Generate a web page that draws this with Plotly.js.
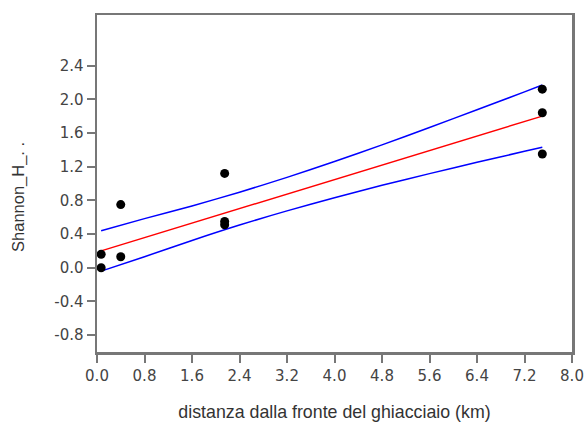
<!DOCTYPE html>
<html>
<head>
<meta charset="utf-8">
<script src="https://cdn.plot.ly/plotly-3.0.1.min.js"></script>
<style>html,body{margin:0;padding:0;background:#fff;}#chart{width:587px;height:423px;}</style>
</head>
<body>
<div id="chart"></div>
<script>
// Observed points
const distX = [0.07, 0.07, 0.4, 0.4, 2.15, 2.15, 2.15, 7.5, 7.5, 7.5];
const shannonY = [0.0, 0.16, 0.13, 0.75, 0.51, 0.55, 1.12, 1.35, 1.84, 2.12];

// Fitted line and confidence band
const fitX = [0.07, 0.8, 1.6, 2.4, 3.2, 4.0, 4.8, 5.6, 6.4, 7.2, 7.5];
const fitY = [0.20, 0.357, 0.529, 0.702, 0.874, 1.046, 1.218, 1.391, 1.563, 1.735, 1.80];
const upperY = [0.44, 0.583, 0.734, 0.897, 1.073, 1.261, 1.458, 1.665, 1.875, 2.088, 2.17];
const lowerY = [-0.04, 0.131, 0.324, 0.507, 0.675, 0.831, 0.978, 1.117, 1.251, 1.382, 1.43];

// Tick labels
const xTicks = [0.0, 0.8, 1.6, 2.4, 3.2, 4.0, 4.8, 5.6, 6.4, 7.2, 8.0];
const yTicks = [-0.8, -0.4, 0.0, 0.4, 0.8, 1.2, 1.6, 2.0, 2.4];

const traces = [
  {x: fitX, y: upperY, mode: 'lines', line: {color: '#0000ff', width: 1.5, shape: 'spline', smoothing: 0.8}, hoverinfo: 'skip'},
  {x: fitX, y: lowerY, mode: 'lines', line: {color: '#0000ff', width: 1.5, shape: 'spline', smoothing: 0.8}, hoverinfo: 'skip'},
  {x: fitX, y: fitY, mode: 'lines', line: {color: '#ff0000', width: 1.5}, hoverinfo: 'skip'},
  {x: distX, y: shannonY, mode: 'markers', marker: {color: '#000', size: 9}}
];

const tickFont = {family: 'DejaVu Sans', size: 15, color: '#444'};
const axisCommon = {
  showline: true, mirror: true, linecolor: '#777', linewidth: 2.5,
  ticks: 'outside', ticklen: 8, tickwidth: 2, tickcolor: '#777',
  showgrid: false, zeroline: false, tickfont: tickFont, fixedrange: true
};

const layout = {
  width: 587, height: 423,
  margin: {l: 97, r: 15, t: 15, b: 71},
  paper_bgcolor: '#fff', plot_bgcolor: '#fff',
  showlegend: false,
  xaxis: Object.assign({}, axisCommon, {
    range: [0, 8], tickmode: 'array', tickvals: xTicks,
    ticktext: xTicks.map(v => v.toFixed(1)),
    title: {text: 'distanza dalla fronte del ghiacciaio (km)', font: {family: 'Liberation Sans', size: 17.8, color: '#333'}, standoff: 22}
  }),
  yaxis: Object.assign({}, axisCommon, {
    range: [-1, 3], tickmode: 'array', tickvals: yTicks,
    ticktext: yTicks.map(v => v.toFixed(1))
  }),
  annotations: [{
    text: 'Shannon_H_. .', textangle: -90, showarrow: false,
    xref: 'paper', yref: 'paper', x: 0, y: 0.46, xanchor: 'center', yanchor: 'middle',
    xshift: -78, font: {family: 'Liberation Sans', size: 16.5, color: '#333'}
  }]
};

Plotly.newPlot('chart', traces, layout, {displayModeBar: false, staticPlot: true});
</script>
</body>
</html>
